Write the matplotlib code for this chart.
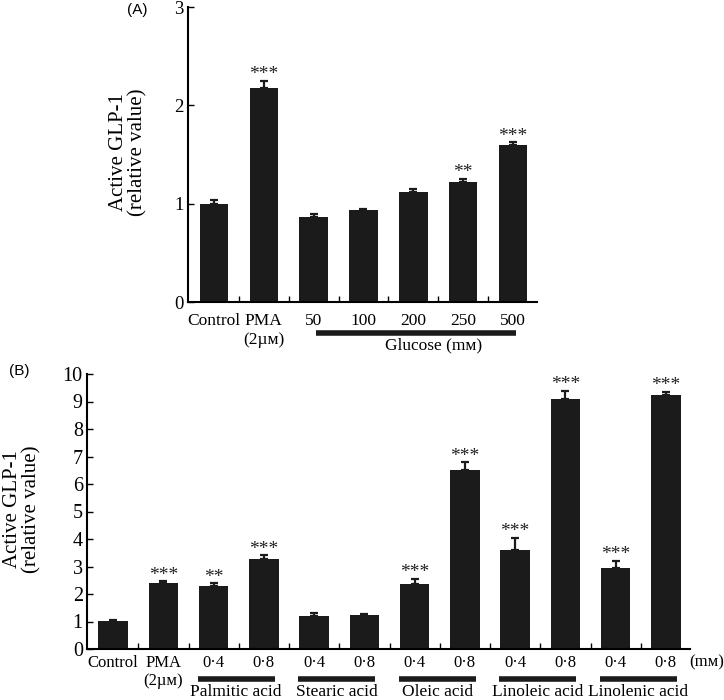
import matplotlib
matplotlib.use("Agg")
import matplotlib.pyplot as plt
import matplotlib.transforms as mtransforms
import numpy as np

# ---------------- data ----------------
a_labels = ['Control', 'PMA\n(2µᴍ)', '50', '100', '200', '250', '500']
a_values = [1.00, 2.18, 0.86, 0.94, 1.12, 1.22, 1.60]
a_errors = [0.035, 0.07, 0.03, 0.01, 0.025, 0.035, 0.025]
a_stars = ['', '***', '', '', '', '**', '***']
a_group = 'Glucose (mᴍ)'

b_labels = ['Control', 'PMA\n(2µᴍ)', '0·4', '0·8', '0·4', '0·8',
            '0·4', '0·8', '0·4', '0·8', '0·4', '0·8']
b_values = [1.02, 2.40, 2.30, 3.27, 1.20, 1.25, 2.35, 6.52, 3.60, 9.10, 2.93, 9.25]
b_errors = [0.03, 0.07, 0.10, 0.15, 0.12, 0.03, 0.20, 0.28, 0.45, 0.30, 0.28, 0.10]
b_stars = ['', '***', '**', '***', '', '', '***', '***', '***', '***', '***', '***']
b_groups = ['Palmitic acid', 'Stearic acid', 'Oleic acid', 'Linoleic acid', 'Linolenic acid']

SERIF = ['Liberation Serif', 'DejaVu Serif', 'DejaVu Sans']
SANS = ['Liberation Sans', 'DejaVu Sans']
plt.rcParams['font.family'] = SERIF
BAR = '#1b1b1b'

fig = plt.figure(figsize=(7.24, 7.0), dpi=100)
axA = fig.add_axes([188/724, 1-302/700, 349/724, 295/700])
axB = fig.add_axes([87/724, 1-649/700, 603/724, 275/700])


def style(ax, n, ymax, yfs, xfs, pad):
    for s in ['top', 'right']:
        ax.spines[s].set_visible(False)
    for s in ['left', 'bottom']:
        ax.spines[s].set_linewidth(1.5)
    ax.set_xlim(-0.52, n - 0.52)
    ax.set_ylim(0, ymax)
    ax.set_xticks(np.arange(n))
    ax.set_xticks(np.arange(n - 1) + 0.5, minor=True)
    ax.tick_params(axis='x', which='major', length=0, pad=pad, labelsize=xfs)
    ax.tick_params(axis='x', which='minor', direction='in', length=4, width=1)
    ax.tick_params(axis='y', direction='in', length=4, width=1, labelsize=yfs, pad=3)


def draw(ax, labels, values, errors, stars, width):
    x = np.arange(len(values))
    ax.bar(x, values, width=width, color=BAR, zorder=2)
    ax.errorbar(x, values, yerr=[np.zeros(len(errors)), errors], fmt='none',
                ecolor=BAR, elinewidth=1.6, capsize=3, capthick=1.6, zorder=3)
    ax.set_xticklabels(labels)
    for xi, v, e, s in zip(x, values, errors, stars):
        if s:
            ax.annotate(s, (xi, v + e), xytext=(0, 1.0), textcoords='offset points',
                        ha='center', va='baseline', fontsize=14, color='#222222')


# ---- Panel A ----
draw(axA, a_labels, a_values, a_errors, a_stars, 0.57)
style(axA, len(a_values), 3, 13.5, 12.5, 8)
axA.set_yticks([0, 1, 2, 3])
trA = mtransforms.blended_transform_factory(axA.transData, axA.transAxes)
axA.plot([2.05, 6.05], [-0.105, -0.105], transform=trA, color=BAR, lw=4,
         solid_capstyle='butt', clip_on=False)
axA.text(4.4, -0.148, a_group, transform=trA, ha='center', va='center', fontsize=12.5)
fig.text(128.5/724, 1-152/700, 'Active GLP-1\n(relative value)', rotation=90,
         ha='center', va='center', fontsize=15, multialignment='center', linespacing=1.05)
fig.text(137/724, 1-10/700, '(A)', family=SANS, fontsize=11, ha='center', va='center')

# ---- Panel B ----
draw(axB, b_labels, b_values, b_errors, b_stars, 0.59)
style(axB, len(b_values), 10, 14.5, 12, 4)
axB.set_yticks(np.arange(0, 11))
trB = mtransforms.blended_transform_factory(axB.transData, axB.transAxes)
for i, name in enumerate(b_groups):
    c = 2.45 + 2 * i
    axB.plot([c - 0.77, c + 0.77], [-0.109, -0.109], transform=trB, color=BAR, lw=4,
             solid_capstyle='butt', clip_on=False)
    axB.text(c, -0.156, name, transform=trB, ha='center', va='center', fontsize=12.5)
axB.text(11.82, -0.047, '(mᴍ)', transform=trB, ha='center', va='center', fontsize=12)
fig.text(22.5/724, 1-509/700, 'Active GLP-1\n(relative value)', rotation=90,
         ha='center', va='center', fontsize=15, multialignment='center', linespacing=1.05)
fig.text(19/724, 1-371/700, '(B)', family=SANS, fontsize=11, ha='center', va='center')

fig.savefig('out.png', dpi=100)
